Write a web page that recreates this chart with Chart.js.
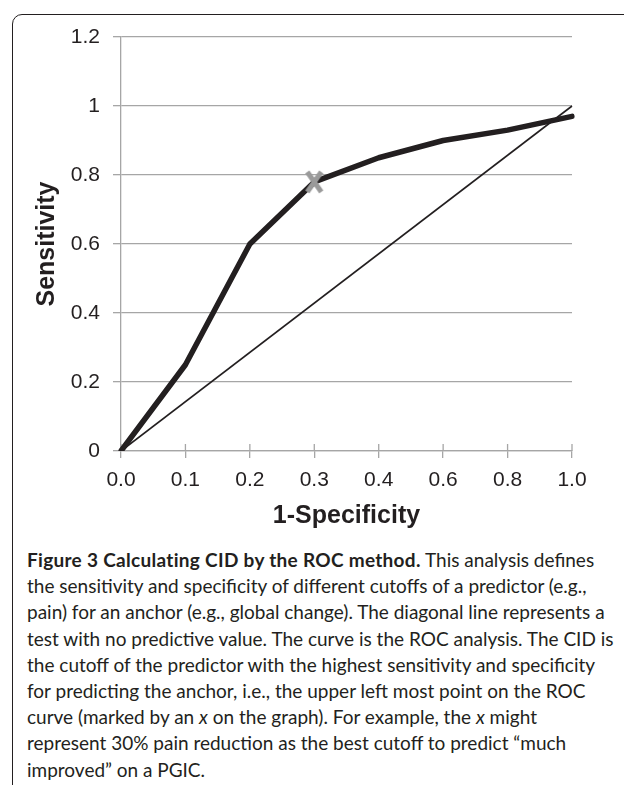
<!DOCTYPE html>
<html>
<head>
<meta charset="utf-8">
<script src="https://cdn.jsdelivr.net/npm/chart.js@4.4.1/dist/chart.umd.min.js"></script>
<style>
html,body{margin:0;padding:0;background:#fff;}
body{width:624px;height:785px;overflow:hidden;position:relative;}
.frame{position:absolute;left:12px;top:14px;width:700px;height:800px;border:1.5px solid #231f20;border-top-left-radius:10px;box-sizing:border-box;}
.chart-box{position:absolute;left:0;top:0;width:624px;height:540px;}
.caption{position:absolute;left:27px;top:547px;font-family:Lato,sans-serif;font-size:19px;line-height:26.2px;color:#231f20;white-space:nowrap;}
.caption b{font-weight:700;letter-spacing:0.3px;}
</style>
</head>
<body>
<div class="frame"></div>
<div class="chart-box"><canvas id="roc"></canvas></div>
<div class="caption">
<b>Figure 3 Calculating CID by the ROC method.</b> This analysis defines<br>
the sensitivity and specificity of different cutoffs of a predictor (e.g.,<br>
pain) for an anchor (e.g., global change). The diagonal line represents a<br>
test with no predictive value. The curve is the ROC analysis. The CID is<br>
the cutoff of the predictor with the highest sensitivity and specificity<br>
for predicting the anchor, i.e., the upper left most point on the ROC<br>
curve (marked by an <i>x</i> on the graph). For example, the <i>x</i> might<br>
represent 30% pain reduction as the best cutoff to predict “much<br>
improved” on a PGIC.
</div>
<script>
// categories on the x axis (Excel line chart, evenly spaced)
const xLabels = ['0.0', '0.1', '0.2', '0.3', '0.4', '0.6', '0.8', '1.0'];
// ROC curve sensitivity at each cutoff
const rocValues = [0, 0.25, 0.6, 0.78, 0.85, 0.9, 0.93, 0.97];
// reference diagonal (no predictive value), only the two ends
const diagonalValues = [0, null, null, null, null, null, null, 1];
// CID point marked with an x
const cidValues = [null, null, null, 0.78, null, null, null, null];
const yTicks = [0, 0.2, 0.4, 0.6, 0.8, 1, 1.2];

const ink = '#231f20';
const gridGray = '#a6a6a6';

// gray x marker, a bit taller than wide
const cross = document.createElement('canvas');
cross.width = 20; cross.height = 26;
const cctx = cross.getContext('2d');
cctx.strokeStyle = '#9a9a9a';
cctx.lineWidth = 5;
cctx.beginPath();
cctx.moveTo(3, 3); cctx.lineTo(17, 23);
cctx.moveTo(17, 3); cctx.lineTo(3, 23);
cctx.stroke();

const crossTicks = {//tick marks on the x axis cross the axis line
  id: 'crossTicks',
  beforeDatasetsDraw(chart) {
    const {ctx, scales: {x, y}} = chart;
    ctx.save();
    ctx.strokeStyle = gridGray;
    ctx.lineWidth = 1.3;
    ctx.beginPath();
    x.ticks.forEach((t, i) => {
      const px = x.getPixelForTick(i);
      ctx.moveTo(px, y.bottom - 7);
      ctx.lineTo(px, y.bottom);
    });
    ctx.stroke();
    ctx.restore();
  }
};

new Chart(document.getElementById('roc'), {
  type: 'line',
  data: {
    labels: xLabels,
    datasets: [
      {data: cidValues, showLine: false, pointStyle: cross, pointRadius: 10, order: 0},
      {data: rocValues, borderColor: ink, borderWidth: 5.5, borderJoinStyle: 'round', borderCapStyle: 'round', pointRadius: 0, tension: 0, order: 1},
      {data: diagonalValues, borderColor: ink, borderWidth: 1.6, pointRadius: 0, spanGaps: true, order: 2}
    ]
  },
  options: {
    responsive: true,
    maintainAspectRatio: false,
    animation: false,
    layout: {padding: {left: 0, top: 37, right: 52, bottom: 0}},
    plugins: {legend: {display: false}, tooltip: {enabled: false}},
    scales: {
      x: {
        afterFit: s => { s.height = 89; },
        grid: {drawOnChartArea: false, color: gridGray, lineWidth: 1.3, tickLength: 7},
        border: {color: gridGray, width: 1.3},
        ticks: {color: ink, padding: 10, maxRotation: 0, font: {family: 'Liberation Sans', size: 21}},
        title: {display: true, text: '1-Specificity', color: ink, padding: {top: 0, bottom: 9}, font: {family: 'Liberation Sans', size: 25, weight: 'bold'}}
      },
      y: {
        min: 0, max: 1.2,
        afterFit: s => { s.width = 121; },
        afterBuildTicks: s => { s.ticks = yTicks.map(v => ({value: v})); },
        grid: {color: gridGray, lineWidth: 1.3, tickLength: 8},
        border: {color: gridGray, width: 1.3},
        ticks: {color: ink, padding: 13, callback: v => String(v), font: {family: 'Liberation Sans', size: 21}},
        title: {display: true, text: 'Sensitivity', color: ink, padding: {top: 32, bottom: 0}, font: {family: 'Liberation Sans', size: 25, weight: 'bold'}}
      }
    }
  },
  plugins: [crossTicks]
});
</script>
</body>
</html>
